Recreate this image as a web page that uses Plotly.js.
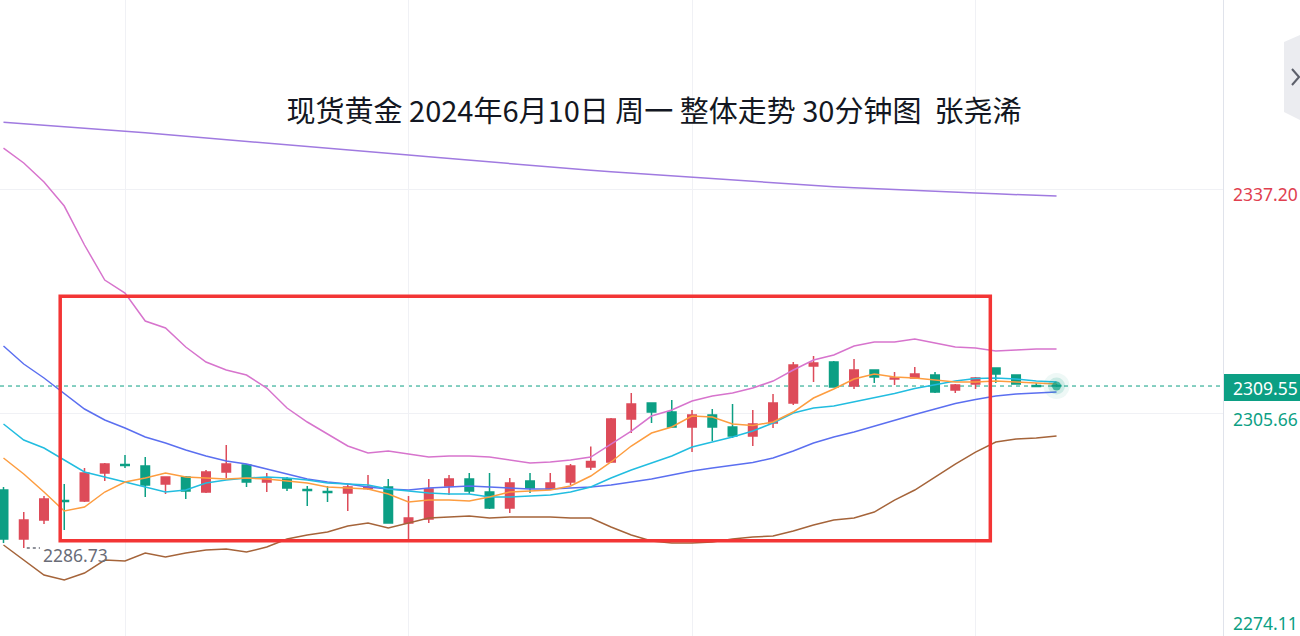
<!DOCTYPE html>
<html>
<head>
<meta charset="utf-8">
<script src="https://cdn.plot.ly/plotly-3.0.1.min.js"></script>
<style>html,body{margin:0;padding:0;background:#fff;}#chart{width:1300px;height:636px;}</style>
</head>
<body>
<div id="chart"></div>
<script>
// bar index (30-minute bars)
const bars = [0,1,2,3,4,5,6,7,8,9,10,11,12,13,14,15,16,17,18,19,20,21,22,23,24,25,26,27,28,29,30,31,32,33,34,35,36,37,38,39,40,41,42,43,44,45,46,47,48,49,50,51,52];

const openP = [2294.90,2288.00,2290.68,2293.42,2293.35,2297.30,2298.49,2298.28,2295.75,2296.73,2294.62,2297.44,2298.42,2296.03,2296.45,2294.97,2294.69,2294.48,2295.11,2295.32,2290.25,2290.82,2295.47,2296.45,2294.62,2292.37,2296.17,2295.04,2296.03,2298.14,2298.85,2304.90,2307.16,2305.89,2303.78,2305.47,2303.78,2302.51,2304.34,2307.16,2312.37,2312.93,2309.55,2311.80,2310.54,2310.68,2311.10,2308.99,2309.83,2312.09,2311.10,2309.62,2309.62];
const highP = [2295.32,2291.80,2294.06,2295.75,2298.00,2298.71,2299.83,2299.55,2296.80,2296.87,2297.72,2301.24,2298.56,2297.30,2296.73,2295.47,2295.47,2295.75,2297.02,2296.45,2294.06,2296.45,2297.02,2297.30,2297.30,2296.59,2297.30,2297.30,2298.56,2301.03,2305.04,2308.56,2307.23,2307.58,2306.17,2306.31,2307.01,2306.17,2308.42,2312.93,2313.78,2313.07,2313.35,2311.87,2311.52,2312.23,2311.52,2309.83,2310.82,2312.16,2311.17,2309.97,2309.83];
const lowP = [2287.44,2286.73,2290.11,2289.27,2293.21,2296.17,2298.00,2293.92,2294.34,2293.63,2294.48,2296.59,2295.32,2294.62,2294.76,2292.65,2293.21,2291.94,2294.90,2290.20,2287.86,2290.25,2294.20,2294.34,2292.23,2291.66,2294.48,2294.97,2295.61,2297.72,2298.71,2302.93,2304.34,2303.63,2300.25,2301.80,2302.23,2301.10,2303.63,2306.87,2310.11,2309.34,2309.13,2309.97,2309.69,2310.61,2308.56,2308.56,2309.13,2309.97,2309.76,2309.41,2309.41];
const closeP = [2288.00,2290.68,2293.63,2293.28,2297.30,2298.56,2298.35,2295.61,2296.73,2294.76,2297.44,2298.56,2296.03,2296.45,2295.18,2294.83,2294.55,2295.32,2295.32,2290.25,2290.96,2295.04,2296.45,2294.76,2292.37,2295.89,2295.18,2295.89,2298.28,2298.92,2304.90,2307.01,2305.89,2303.78,2305.47,2303.78,2302.51,2304.20,2307.16,2312.51,2312.79,2309.41,2311.80,2310.82,2310.68,2311.24,2308.70,2309.69,2310.68,2311.24,2309.83,2309.48,2309.55];

const maLong = [2346.69,2346.49,2346.28,2346.09,2345.87,2345.68,2345.47,2345.23,2344.96,2344.73,2344.49,2344.24,2344.00,2343.75,2343.51,2343.25,2343.03,2342.79,2342.55,2342.32,2342.09,2341.83,2341.58,2341.34,2341.09,2340.85,2340.62,2340.40,2340.17,2339.93,2339.72,2339.52,2339.33,2339.13,2338.93,2338.72,2338.52,2338.33,2338.13,2337.93,2337.76,2337.62,2337.48,2337.34,2337.20,2337.07,2336.96,2336.85,2336.73,2336.62,2336.51,2336.41,2336.31];
const bollUpper = [2343.07,2340.96,2338.28,2334.90,2329.41,2324.48,2322.65,2318.70,2317.72,2315.04,2312.93,2311.80,2311.10,2309.27,2306.45,2304.48,2302.79,2301.10,2300.11,2300.40,2299.97,2299.55,2299.69,2299.69,2299.55,2299.13,2298.71,2298.85,2299.13,2299.55,2301.38,2303.21,2305.32,2306.17,2307.44,2308.14,2308.56,2309.27,2310.25,2311.80,2313.21,2313.92,2315.18,2315.75,2315.75,2316.17,2315.61,2315.04,2314.90,2314.48,2314.62,2314.76,2314.76];
const maSlow = [2315.18,2312.65,2310.68,2308.56,2306.31,2304.76,2303.63,2302.37,2301.52,2300.54,2299.69,2298.99,2298.56,2297.86,2297.16,2296.45,2296.03,2295.75,2295.32,2295.04,2294.90,2295.18,2295.32,2295.47,2295.32,2295.18,2295.04,2295.04,2295.18,2295.32,2295.61,2296.03,2296.45,2297.02,2297.58,2298.00,2298.35,2298.78,2299.41,2300.40,2301.52,2302.37,2303.07,2303.92,2304.76,2305.54,2306.31,2307.09,2307.65,2308.14,2308.42,2308.56,2308.70];
const maMid = [2304.20,2301.94,2300.82,2299.13,2297.44,2296.73,2296.03,2295.32,2294.62,2294.90,2295.89,2296.31,2296.59,2296.73,2296.59,2296.31,2295.89,2295.75,2295.61,2295.04,2294.76,2294.48,2294.34,2294.34,2293.92,2293.92,2294.06,2294.20,2294.62,2295.32,2296.59,2297.72,2298.71,2299.69,2300.96,2301.66,2302.37,2303.21,2304.34,2305.75,2306.45,2306.73,2307.30,2307.86,2308.49,2309.20,2309.76,2310.25,2310.61,2310.68,2310.54,2310.25,2310.11];
const maFast = [2299.41,2297.16,2294.62,2291.94,2292.51,2294.62,2296.03,2296.59,2297.30,2296.73,2296.59,2296.45,2296.59,2296.45,2296.17,2295.89,2295.32,2295.18,2295.04,2294.34,2293.21,2293.49,2293.49,2293.35,2293.92,2294.62,2294.76,2294.90,2295.47,2296.87,2298.85,2301.10,2302.93,2303.78,2305.32,2305.18,2304.20,2303.99,2304.48,2305.89,2307.86,2309.13,2310.54,2311.24,2310.82,2310.68,2310.40,2310.11,2310.11,2310.25,2310.11,2309.97,2309.83];
const bollLower = [2287.16,2285.04,2282.93,2282.23,2283.21,2285.04,2284.90,2286.03,2285.47,2286.03,2286.45,2286.59,2286.17,2286.87,2288.00,2288.56,2288.99,2289.83,2290.25,2289.55,2290.25,2290.96,2291.10,2291.24,2290.96,2291.10,2291.10,2291.10,2290.96,2290.96,2289.69,2288.56,2287.72,2287.44,2287.44,2287.58,2288.00,2288.28,2288.42,2289.13,2289.97,2290.68,2290.96,2291.80,2293.49,2294.90,2296.73,2298.56,2300.25,2301.66,2302.08,2302.23,2302.51];

const titleText = '现货黄金 2024年6月10日 周一 整体走势 30分钟图 \u00a0张尧浠';
const lowLabel = '2286.73';
const lowIndex = 1;
const axisLabels = ['2337.20', '2309.55', '2305.66', '2274.11'];
const gridPrices = [2305.66, 2337.20];
const timeGrid = [6, 20, 34, 48];
const boxRange = {x0: 2.8, x1: 48.73, y0: 2287.75, y1: 2322.20};

const UP = '#dd4b59', DOWN = '#0c9f84';
const last = bars.length - 1;

function line(y, color) {
  return {type: 'scatter', mode: 'lines', x: bars, y: y, line: {color: color, width: 1.5}, hoverinfo: 'skip'};
}

const traces = [
  {type: 'candlestick', x: bars, open: openP, high: highP, low: lowP, close: closeP,
   increasing: {line: {color: UP, width: 1.5}, fillcolor: UP},
   decreasing: {line: {color: DOWN, width: 1.5}, fillcolor: DOWN},
   whiskerwidth: 0, hoverinfo: 'skip'},
  line(maLong, '#a07ae0'),
  line(bollUpper, '#d774cd'),
  line(bollLower, '#a5643a'),
  line(maSlow, '#5b6ff0'),
  line(maMid, '#22bde0'),
  line(maFast, '#fd9d40'),
  {type: 'scatter', mode: 'markers', x: [bars[last], bars[last], bars[last]], y: [closeP[last], closeP[last], closeP[last]],
   marker: {size: [26, 17, 9], color: ['rgba(12,159,132,0.10)', 'rgba(12,159,132,0.22)', DOWN], line: {width: 0}}, hoverinfo: 'skip'}
];

const W = 1223, H = 636;
const px = v => v / W;           // pixel x -> paper
const py = v => 1 - v / H;       // pixel y -> paper
const labelFont = {family: 'Noto Sans, Roboto, sans-serif', size: 17.5};

const layout = {
  width: 1300, height: 636,
  margin: {l: 0, r: 77, t: 0, b: 0},
  paper_bgcolor: '#ffffff', plot_bgcolor: '#ffffff',
  showlegend: false, hovermode: false, boxgap: 0.4,
  title: {text: titleText, font: {family: 'Noto Sans CJK SC', size: 29, color: '#131722'},
          xref: 'container', yref: 'container', x: 654 / 1300, y: 1 - 112 / 636, xanchor: 'center', yanchor: 'middle'},
  xaxis: {range: [-0.1728, 60.22], tickvals: timeGrid, showticklabels: false, showgrid: true, gridcolor: '#f0f1f5',
          zeroline: false, showline: false, ticks: '', rangeslider: {visible: false}, fixedrange: true},
  yaxis: {range: [2274.34, 2363.92], tickvals: gridPrices, showticklabels: false, showgrid: true, gridcolor: '#f0f1f5',
          zeroline: false, showline: false, ticks: '', fixedrange: true},
  shapes: [
    {type: 'line', xref: 'paper', yref: 'y', x0: 0, x1: 1, y0: closeP[last], y1: closeP[last],
     line: {color: DOWN, width: 1, dash: '4px,4px'}, layer: 'below'},
    {type: 'rect', xref: 'x', yref: 'y', x0: boxRange.x0, x1: boxRange.x1, y0: boxRange.y0, y1: boxRange.y1,
     line: {color: '#f33535', width: 3.5}, fillcolor: 'rgba(0,0,0,0)', layer: 'above'},
    {type: 'line', xref: 'x', yref: 'y', x0: lowIndex + 0.15, x1: lowIndex + 0.8, y0: lowP[lowIndex], y1: lowP[lowIndex],
     line: {color: '#6a6d78', width: 1.5, dash: 'dot'}},
    {type: 'line', xref: 'paper', yref: 'paper', x0: px(1223.5), x1: px(1223.5), y0: 0, y1: 1,
     line: {color: '#e0e3eb', width: 1}},
    {type: 'rect', xref: 'paper', yref: 'paper', x0: px(1224), x1: px(1300), y0: py(401), y1: py(374),
     line: {width: 0}, fillcolor: DOWN},
    {type: 'path', xref: 'paper', yref: 'paper',
     path: `M ${px(1284)} ${py(42)} L ${px(1300)} ${py(35)} L ${px(1300)} ${py(120)} L ${px(1284)} ${py(112)} Z`,
     line: {width: 0}, fillcolor: '#ebecf0'},
    {type: 'path', xref: 'paper', yref: 'paper',
     path: `M ${px(1292)} ${py(69)} L ${px(1299)} ${py(77)} L ${px(1292)} ${py(85)}`,
     line: {color: '#5d606b', width: 2}}
  ],
  annotations: [
    {xref: 'x', yref: 'y', x: lowIndex + 0.85, y: lowP[lowIndex], yshift: -7, text: lowLabel, showarrow: false,
     xanchor: 'left', yanchor: 'middle', font: Object.assign({}, labelFont, {color: '#6a6d78'})},
    {xref: 'paper', yref: 'paper', x: px(1231), y: py(193.5), text: axisLabels[0], showarrow: false,
     xanchor: 'left', yanchor: 'middle', font: Object.assign({}, labelFont, {color: '#e0404f'})},
    {xref: 'paper', yref: 'paper', x: px(1231), y: py(387.5), text: axisLabels[1], showarrow: false,
     xanchor: 'left', yanchor: 'middle', font: Object.assign({}, labelFont, {color: '#ffffff'})},
    {xref: 'paper', yref: 'paper', x: px(1231), y: py(419), text: axisLabels[2], showarrow: false,
     xanchor: 'left', yanchor: 'middle', font: Object.assign({}, labelFont, {color: DOWN})},
    {xref: 'paper', yref: 'paper', x: px(1231), y: py(623), text: axisLabels[3], showarrow: false,
     xanchor: 'left', yanchor: 'middle', font: Object.assign({}, labelFont, {color: DOWN})}
  ]
};

Plotly.newPlot('chart', traces, layout, {displayModeBar: false, staticPlot: true});
</script>
</body>
</html>
